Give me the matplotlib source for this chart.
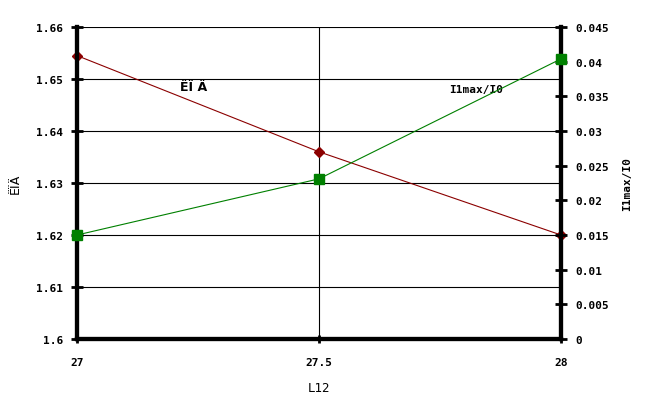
import matplotlib
matplotlib.use('Agg')
import matplotlib.pyplot as plt

L12 = [27, 27.5, 28]
kpd = [1.6545, 1.636, 1.62]
i1max = [0.015, 0.0231, 0.0404]

left_ticks = [1.6, 1.61, 1.62, 1.63, 1.64, 1.65, 1.66]
left_labels = ['1.6', '1.61', '1.62', '1.63', '1.64', '1.65', '1.66']
right_ticks = [0, 0.005, 0.01, 0.015, 0.02, 0.025, 0.03, 0.035, 0.04, 0.045]
right_labels = ['0', '0.005', '0.01', '0.015', '0.02', '0.025', '0.03', '0.035', '0.04', '0.045']
x_ticks = [27, 27.5, 28]
x_labels = ['27', '27.5', '28']

fnt = dict(family='DejaVu Sans Mono', weight='bold', size=8)

fig = plt.figure(figsize=(6.47, 4.06), dpi=100)
ax = fig.add_axes([77 / 647, 1 - 340 / 406, (561 - 77) / 647, (340 - 28) / 406])
ax2 = ax.twinx()

ax.set_xlim(27, 28)
ax.set_ylim(1.6, 1.66)
ax2.set_ylim(0, 0.045)

for y in left_ticks[1:]:
    ax.axhline(y, color='black', lw=0.8, zorder=1)
ax.axvline(27.5, color='black', lw=0.8, zorder=1)

ax.plot(L12, kpd, color='#8b0000', lw=0.8, marker='D', markersize=5, zorder=5, clip_on=False)
ax2.plot(L12, i1max, color='#008000', lw=0.8, marker='s', markersize=7, zorder=5, clip_on=False)

for a in (ax, ax2):
    a.spines['top'].set_visible(False)
    a.spines['left'].set_linewidth(3)
    a.spines['bottom'].set_linewidth(3)
    a.spines['right'].set_linewidth(3)

ax.set_yticks(left_ticks)
ax.set_yticklabels(left_labels, **fnt)
ax.set_xticks(x_ticks)
ax.set_xticklabels(x_labels, **fnt)
ax2.set_yticks(right_ticks)
ax2.set_yticklabels(right_labels, **fnt)

ax.tick_params(axis='y', direction='inout', length=8, width=2, pad=6)
ax.tick_params(axis='x', direction='inout', length=6, width=2, pad=10)
ax2.tick_params(axis='y', direction='inout', length=8, width=2, pad=6)

ax.set_xlabel('L12', family='DejaVu Sans Mono', size=9, labelpad=10)
ax.set_ylabel('ËÏÄ', family='DejaVu Sans', size=9, labelpad=10)
ax2.set_ylabel('I1max/I0', **fnt, labelpad=10)

ax.text(27.24, 1.6485, 'ËÏ Ä', family='DejaVu Sans', weight='bold', size=9, ha='center', va='center')
ax2.text(27.824, 0.0361, 'I1max/I0', ha='center', va='center', **fnt)

fig.savefig('out.png', dpi=100)
